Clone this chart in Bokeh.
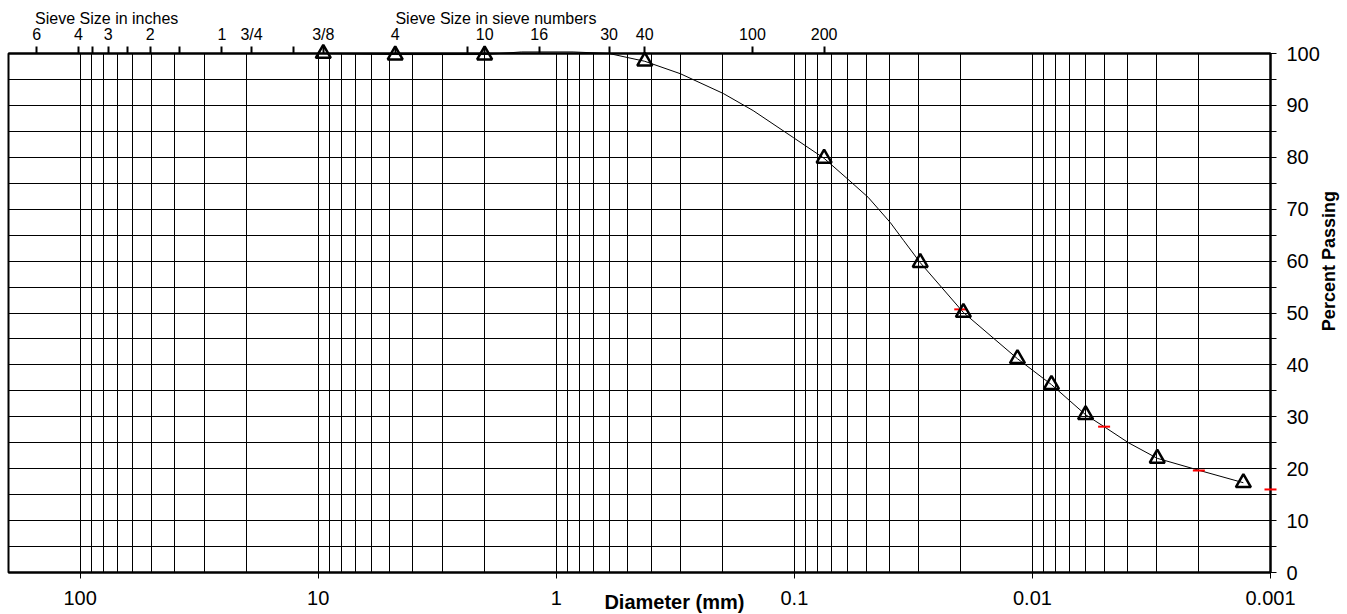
from bokeh.plotting import figure
from bokeh.models import Range1d, LogAxis, FixedTicker, CustomJSTickFormatter
from bokeh.core.properties import value
from bokeh.embed import file_html
from bokeh.resources import INLINE
import math

FONT = "Liberation Sans"

# ---- data ----
sample_diam_mm = [9.525, 4.75, 2.0, 0.425, 0.075, 0.0296, 0.0195, 0.01156, 0.00832, 0.00598, 0.00299, 0.0013]
sample_pct = [100.0, 99.7, 99.7, 98.5, 79.8, 59.7, 50.1, 41.2, 36.2, 30.4, 22.0, 17.3]

curve_diam_mm = [9.525, 4.75, 2.0, 1.4, 0.85, 0.6, 0.425, 0.301, 0.199, 0.149, 0.101, 0.075,
                 0.060, 0.049, 0.0395, 0.0348, 0.0296, 0.0195, 0.01156, 0.00832, 0.00598,
                 0.005, 0.00395, 0.00299, 0.002, 0.0013]
curve_pct = [100.0, 99.8, 99.8, 100.3, 100.3, 100.0, 98.5, 96.1, 92.3, 89.0, 83.8, 79.8,
             75.9, 72.3, 67.4, 64.0, 59.7, 50.1, 41.2, 36.2, 30.4,
             28.1, 25.0, 22.0, 19.7, 17.3]

marked_diam_mm = [0.0201, 0.005, 0.002, 0.001]
marked_pct = [50.7, 28.1, 19.65, 16.0]

bottom_ticks = [100, 10, 1, 0.1, 0.01, 0.001]
bottom_labels = ["100", "10", "1", "0.1", "0.01", "0.001"]

sieve_ticks_mm = [152.4, 101.6, 88.9, 76.2, 63.5, 50.8, 38.1, 25.4, 19.05, 12.7, 9.525,
                  4.75, 2.36, 2.0, 1.18, 0.6, 0.425, 0.15, 0.075]
sieve_labels = ["6", "4", "", "3", "", "2", "", "1", "3/4", "", "3/8",
                "4", "", "10", "16", "30", "40", "100", "200"]

pct_major = list(range(0, 101, 10))
pct_minor = list(range(5, 100, 10))

LOOKUP = """
let best = 0, bd = 1e9;
for (let i = 0; i < t.length; i++) {
  const d = Math.abs(Math.log(t[i]) - Math.log(tick));
  if (d < bd) { bd = d; best = i; }
}
return l[best];
"""

p = figure(width=1345, height=613, x_axis_type="log",
           x_range=Range1d(200, 0.001), y_range=Range1d(0, 100),
           y_axis_location="right", output_backend="svg", toolbar_location=None,
           min_border_left=8, min_border_right=75, min_border_top=53, min_border_bottom=41)
p.background_fill_color = "white"
p.border_fill_color = "white"
p.outline_line_color = "black"
p.outline_line_width = 2

# bottom axis
bx = p.below[0]
bx.ticker = FixedTicker(ticks=bottom_ticks, minor_ticks=[])
bx.formatter = CustomJSTickFormatter(args=dict(t=bottom_ticks, l=bottom_labels), code=LOOKUP)
bx.major_tick_in = 0
bx.major_tick_out = 6
bx.minor_tick_in = 0
bx.minor_tick_out = 0
bx.axis_line_width = 2
bx.axis_line_color = "black"
bx.major_tick_line_color = "black"
bx.major_label_standoff = 12
bx.major_label_text_font = FONT
bx.major_label_text_font_size = "20px"
bx.major_label_text_color = "black"

# right axis
ry = p.right[0]
ry.ticker = FixedTicker(ticks=pct_major, minor_ticks=pct_minor)
ry.major_tick_in = 0
ry.major_tick_out = 6
ry.minor_tick_in = 0
ry.minor_tick_out = 6
ry.axis_line_width = 2
ry.axis_line_color = "black"
ry.major_tick_line_color = "black"
ry.minor_tick_line_color = "black"
ry.major_label_standoff = 10
ry.major_label_text_font = FONT
ry.major_label_text_font_size = "20px"
ry.major_label_text_color = "black"

# top sieve axis
minor_log = [k * 10.0 ** e for e in range(-3, 2) for k in range(2, 10)]
top = LogAxis(ticker=FixedTicker(ticks=sieve_ticks_mm, minor_ticks=[]),
              formatter=CustomJSTickFormatter(args=dict(t=sieve_ticks_mm, l=sieve_labels), code=LOOKUP),
              major_tick_in=0, major_tick_out=7, minor_tick_in=0, minor_tick_out=0,
              major_tick_line_width=2, axis_line_width=2,
              major_label_standoff=4, major_label_text_font=FONT,
              major_label_text_font_size="16px", major_label_text_color="black")
p.add_layout(top, "above")

# grids
p.xgrid.ticker = FixedTicker(ticks=bottom_ticks, minor_ticks=minor_log)
p.xgrid.grid_line_color = "black"
p.xgrid.grid_line_width = 1
p.xgrid.minor_grid_line_color = "black"
p.xgrid.minor_grid_line_width = 1
p.ygrid.ticker = FixedTicker(ticks=list(range(0, 101, 5)), minor_ticks=[])
p.ygrid.grid_line_color = "black"
p.ygrid.grid_line_width = 1

# data marks
rs = []
rs.append(p.line(curve_diam_mm, curve_pct, line_color="black", line_width=1))
rs.append(p.scatter(marked_diam_mm, marked_pct, marker="dash", size=12, line_color="red", line_width=2))
rs.append(p.scatter(sample_diam_mm, sample_pct, marker="triangle", size=15, fill_color=None,
                    line_color="black", line_width=2.5))

# texts (overlay-level text glyphs so they are not clipped to the frame)
rs.append(p.text(x=[154.6, 4.74], y=[106.8, 106.8],
                 text=["Sieve Size in inches", "Sieve Size in sieve numbers"],
                 text_align="left", text_baseline="middle", text_font=value(FONT),
                 text_font_size="16px", text_color="black"))
rs.append(p.text(x=[0.319], y=[-5.6], text=["Diameter (mm)"], text_align="center",
                 text_baseline="middle", text_font=value(FONT), text_font_size="20px",
                 text_font_style="bold", text_color="black"))
rs.append(p.text(x=[0.00057], y=[60], text=["Percent Passing"], text_align="center",
                 text_baseline="middle", angle=math.pi / 2, text_font=value(FONT),
                 text_font_size="18px", text_font_style="bold", text_color="black"))
for r in rs:
    r.level = "overlay"

open("out.html", "w").write(file_html(p, INLINE))
